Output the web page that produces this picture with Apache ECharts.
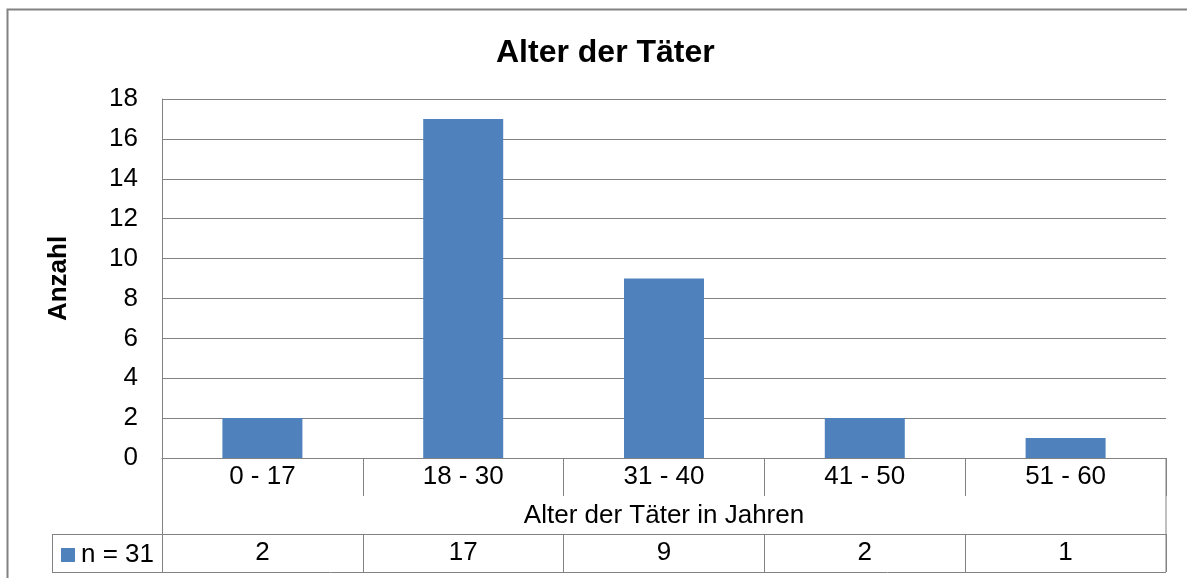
<!DOCTYPE html>
<html>
<head>
<meta charset="utf-8">
<script src="https://cdn.jsdelivr.net/npm/echarts@6/dist/echarts.min.js"></script>
<style>
    html, body { margin: 0; padding: 0; background: #fff; }
    #chart { width: 1187px; height: 578px; }
</style>
</head>
<body>
<div id="chart"></div>
<script>
// Altersgruppen der Täter
var categories = ['0 - 17', '18 - 30', '31 - 40', '41 - 50', '51 - 60'];
var counts = [2, 17, 9, 2, 1];
var seriesName = 'n = 31';
var yTicks = [0, 2, 4, 6, 8, 10, 12, 14, 16, 18];

var lineColor = '#828282';
var font = '"Liberation Sans", Arial, sans-serif';

var chart = echarts.init(document.getElementById('chart'));

// Linien der Datentabelle unter dem Diagramm
function hLine(x1, x2, y) {
    return {type: 'line', shape: {x1: x1, y1: y, x2: x2, y2: y}, style: {stroke: lineColor, lineWidth: 1}, z: 10};
}
function vLine(x, y1, y2) {
    return {type: 'line', shape: {x1: x, y1: y1, x2: x, y2: y2}, style: {stroke: lineColor, lineWidth: 1}, z: 10};
}

var option = {
    backgroundColor: '#ffffff',
    textStyle: {fontFamily: font},
    animation: false,
    title: {
        text: 'Alter der Täter',
        left: 491,
        top: 32,
        textStyle: {fontFamily: font, fontSize: 32, fontWeight: 'bold', color: '#000'}
    },
    legend: {
        left: 56,
        top: 537,
        icon: 'rect',
        itemWidth: 14,
        itemHeight: 14,
        data: [seriesName],
        textStyle: {fontFamily: font, fontSize: 26, color: '#000', padding: [0, 0, 0, 1]}
    },
    grid: {
        left: 162,
        right: 21,
        top: 99,
        bottom: 120
    },
    xAxis: [
        {
            type: 'category',
            data: categories,
            axisLine: {lineStyle: {color: lineColor, width: 1}},
            axisTick: {show: true, length: 38, lineStyle: {color: lineColor}},
            axisLabel: {fontFamily: font, fontSize: 26, color: '#000', margin: 6, lineHeight: 26},
            name: 'Alter der Täter in Jahren',
            nameLocation: 'middle',
            nameGap: 45,
            nameTextStyle: {fontFamily: font, fontSize: 26, color: '#000', lineHeight: 26}
        },
        {
            // Tabellenzeile mit den Werten
            type: 'category',
            position: 'bottom',
            offset: 76,
            data: counts.map(String),
            axisLine: {lineStyle: {color: lineColor, width: 1}},
            axisTick: {show: true, length: 38, lineStyle: {color: lineColor}},
            axisLabel: {fontFamily: font, fontSize: 26, color: '#000', margin: 6, lineHeight: 26}
        }
    ],
    yAxis: {
        type: 'value',
        min: yTicks[0],
        max: yTicks[yTicks.length - 1],
        interval: 2,
        axisLine: {show: true, lineStyle: {color: lineColor, width: 1}},
        axisTick: {show: false},
        splitLine: {lineStyle: {color: lineColor, width: 1}},
        axisLabel: {fontFamily: font, fontSize: 26, color: '#000', margin: 24},
        name: 'Anzahl',
        nameLocation: 'middle',
        nameGap: 90,
        nameTextStyle: {fontFamily: font, fontSize: 26, fontWeight: 'bold', color: '#000'}
    },
    series: [{
        name: seriesName,
        type: 'bar',
        data: counts,
        barWidth: 80,
        itemStyle: {color: '#4F81BD'}
    }],
    graphic: [
        {type: 'rect', shape: {x: 7.5, y: 9.5, width: 1300, height: 700}, style: {fill: 'none', stroke: lineColor, lineWidth: 2}, z: 10},
        vLine(162.5, 458, 572),
        vLine(1166, 458, 572),
        hLine(52, 162, 534.5),
        hLine(52, 1166, 572.5),
        vLine(52.5, 534, 572)
    ]
};
chart.setOption(option);
</script>
</body>
</html>
